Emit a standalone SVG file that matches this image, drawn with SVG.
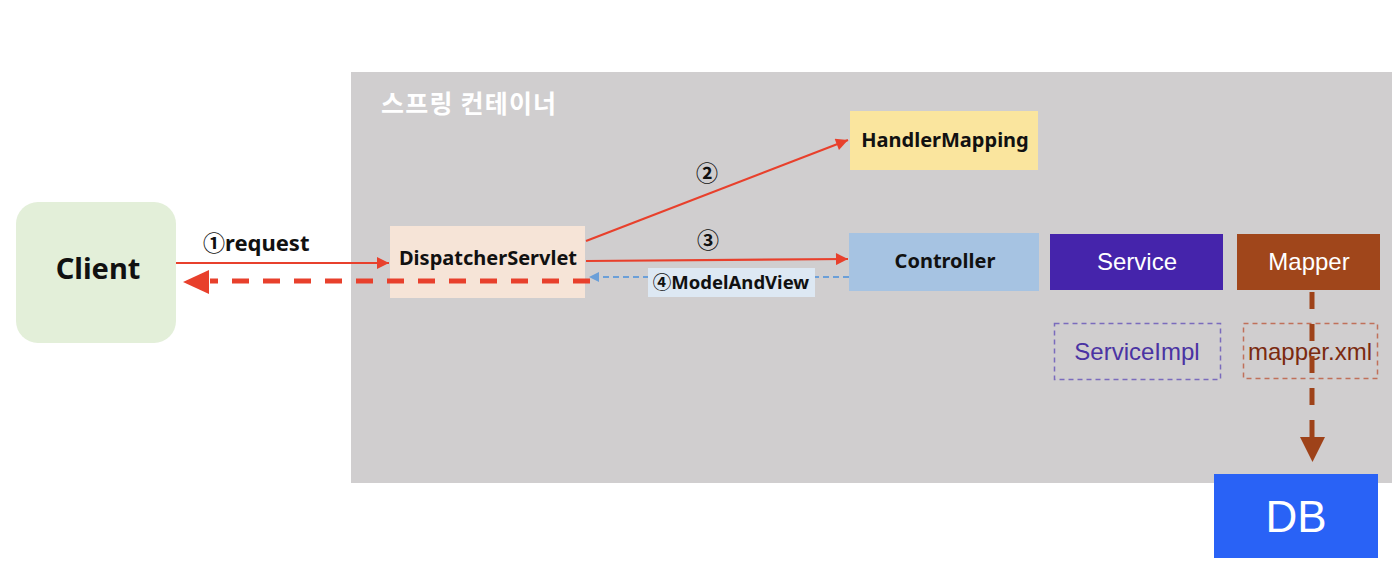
<svg xmlns="http://www.w3.org/2000/svg" width="1394" height="580" viewBox="0 0 1394 580">
<style>
.b{font-family:"Noto Sans","Noto Sans CJK KR",sans-serif;font-weight:bold;fill:#111;}
.h{font-family:"Liberation Sans",Arial,sans-serif;}
</style>
<defs>
<marker id="ar" viewBox="0 0 10 10" refX="10" refY="5" markerWidth="14" markerHeight="12" markerUnits="userSpaceOnUse" orient="auto"><path d="M0,0L10,5L0,10z" fill="#e8402c"/></marker>
<marker id="ab" viewBox="0 0 10 10" refX="10" refY="5" markerWidth="12" markerHeight="10" markerUnits="userSpaceOnUse" orient="auto"><path d="M0,0L10,5L0,10z" fill="#6b9fd8"/></marker>
</defs>
<rect width="1394" height="580" fill="#fff"/>
<g id="container">
<rect x="351" y="72" width="1041" height="411" fill="#d0cecf"/>
<text x="381" y="113" font-family="Noto Sans CJK KR,sans-serif" font-weight="bold" font-size="25" letter-spacing="1.2" fill="#fff">스프링 컨테이너</text>
</g>
<g id="client">
<rect x="16" y="202" width="160" height="141" rx="22" fill="#e3efd9"/>
<text class="b" x="98" y="279" font-size="29" text-anchor="middle">Client</text>
</g>
<g id="dispatcher">
<rect x="390" y="226" width="195" height="72" fill="#f6e4d7"/>
<text class="b" x="488" y="265" font-size="20" text-anchor="middle">DispatcherServlet</text>
</g>
<g id="handlermapping">
<rect x="850" y="111" width="188" height="59" fill="#fae59e"/>
<text class="b" x="945" y="147" font-size="20" text-anchor="middle">HandlerMapping</text>
</g>
<g id="controller">
<rect x="849" y="233" width="190" height="58" fill="#a6c3e2"/>
<text class="b" x="945" y="268" font-size="20" text-anchor="middle">Controller</text>
</g>
<g id="service">
<rect x="1050" y="234" width="173" height="56" fill="#4524ab"/>
<text class="h" x="1137" y="270" font-size="24" fill="#fff" text-anchor="middle">Service</text>
</g>
<g id="mapper">
<rect x="1237" y="234" width="143" height="56" fill="#a0461b"/>
<text class="h" x="1309" y="270" font-size="24" fill="#fff" text-anchor="middle">Mapper</text>
</g>
<g id="serviceimpl">
<rect x="1054.5" y="323.5" width="166" height="56" fill="none" stroke="#7a6bbd" stroke-width="1.5" stroke-dasharray="5 4"/>
<text class="h" x="1137" y="360" font-size="24" fill="#4a33a3" text-anchor="middle">ServiceImpl</text>
</g>
<g id="mapperxml">
<rect x="1243.5" y="323.5" width="134" height="55" fill="none" stroke="#c0705a" stroke-width="1.5" stroke-dasharray="5 4"/>
<text class="h" x="1310" y="360" font-size="24" fill="#7b2a10" text-anchor="middle">mapper.xml</text>
</g>
<g id="db">
<rect x="1214" y="474" width="164" height="84" fill="#2962f6"/>
<text class="h" x="1296" y="532" font-size="44" fill="#fff" text-anchor="middle">DB</text>
</g>
<g id="connectors">
<line x1="176" y1="263" x2="389" y2="263" stroke="#e8402c" stroke-width="2.2" marker-end="url(#ar)"/>
<text class="b" x="203" y="251" font-size="22">①request</text>
<line x1="590" y1="281" x2="210" y2="281" stroke="#e8402c" stroke-width="5" stroke-dasharray="17 14"/>
<path d="M183,282L209,270L209,294z" fill="#e8402c"/>
<line x1="586" y1="241" x2="848" y2="140" stroke="#e8402c" stroke-width="2.2" marker-end="url(#ar)"/>
<text class="b" x="707" y="181" font-size="22" text-anchor="middle">②</text>
<line x1="586" y1="261" x2="848" y2="259" stroke="#e8402c" stroke-width="2.2" marker-end="url(#ar)"/>
<text class="b" x="708" y="248" font-size="22" text-anchor="middle">③</text>
<line x1="849" y1="277" x2="589" y2="277" stroke="#6b9fd8" stroke-width="2" stroke-dasharray="6 4" marker-end="url(#ab)"/>
<rect x="648" y="268" width="167" height="29" fill="#dde8f3"/>
<text class="b" x="731" y="289" font-size="18.5" text-anchor="middle">④ModelAndView</text>
<line x1="1312" y1="292" x2="1312" y2="437" stroke="#9e4219" stroke-width="5" stroke-dasharray="17 15"/>
<path d="M1300,437L1325,437L1312.5,462z" fill="#9e4219"/>
</g>
</svg>
